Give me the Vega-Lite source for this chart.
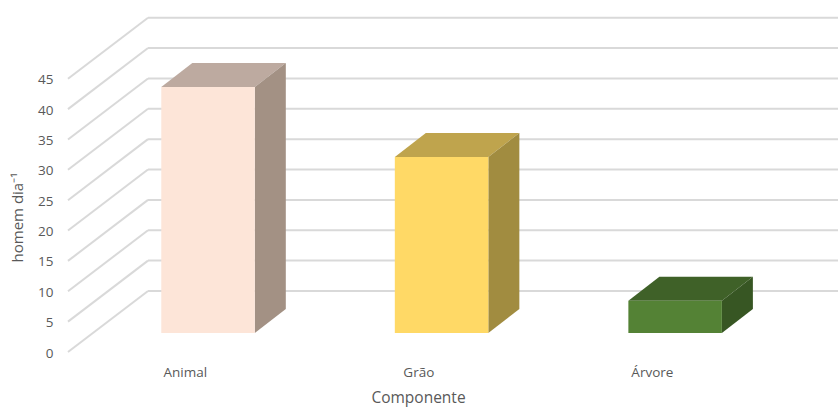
{
  "$schema": "https://vega.github.io/schema/vega-lite/v6.json",
  "width": 770,
  "height": 334,
  "autosize": "none",
  "padding": {"left": 68, "top": 18, "right": 0, "bottom": 55},
  "background": "white",
  "config": {"view": {"stroke": null}, "font": "Open Sans"},
  "datasets": {
    "barras": [
      {"Componente": "Animal", "ordem": 0, "valor": 40.5},
      {"Componente": "Grão", "ordem": 1, "valor": 29},
      {"Componente": "Árvore", "ordem": 2, "valor": 5.3}
    ],
    "grade": [
      {"v": 0}, {"v": 5}, {"v": 10}, {"v": 15}, {"v": 20},
      {"v": 25}, {"v": 30}, {"v": 35}, {"v": 40}, {"v": 45}
    ]
  },
  "encoding": {
    "x": {
      "field": "xa",
      "type": "quantitative",
      "scale": {"domain": [-0.5, 2.797], "nice": false, "zero": false},
      "axis": {
        "values": [0, 1, 2],
        "labelExpr": "['Animal','Grão','Árvore'][datum.value]",
        "title": "Componente",
        "titleFontSize": 15.5,
        "titleFontWeight": "normal",
        "titleColor": "#595959",
        "titleX": 350,
        "titleY": 50,
        "titleBaseline": "alphabetic",
        "labelFontSize": 13.5,
        "labelColor": "#595959",
        "labelPadding": 13,
        "grid": false,
        "ticks": false,
        "domain": false
      }
    },
    "y": {
      "field": "ya",
      "type": "quantitative",
      "stack": null,
      "scale": {"domain": [0, 55], "nice": false},
      "axis": {
        "values": [0, 5, 10, 15, 20, 25, 30, 35, 40, 45],
        "title": "homem dia⁻¹",
        "titleFontSize": 15,
        "titleFontWeight": "normal",
        "titleColor": "#595959",
        "titleX": -43,
        "titleY": 199,
        "labelFontSize": 13.5,
        "labelColor": "#595959",
        "labelPadding": 15,
        "labelOffset": 1,
        "grid": false,
        "ticks": false,
        "domain": false
      }
    }
  },
  "resolve": {"scale": {"color": "independent"}},
  "layer": [
    {
      "data": {"name": "grade"},
      "transform": [
        {"calculate": "-0.5", "as": "xa"},
        {"calculate": "-0.1574", "as": "xb"},
        {"calculate": "datum.v", "as": "ya"},
        {"calculate": "datum.v+10.05", "as": "yb"}
      ],
      "mark": {"type": "rule", "color": "#D9D9D9", "strokeWidth": 2},
      "encoding": {"x2": {"field": "xb"}, "y2": {"field": "yb"}}
    },
    {
      "data": {"name": "grade"},
      "transform": [
        {"calculate": "-0.1574", "as": "xa"},
        {"calculate": "2.797", "as": "xb"},
        {"calculate": "datum.v+10.05", "as": "ya"}
      ],
      "mark": {"type": "rule", "color": "#D9D9D9", "strokeWidth": 2},
      "encoding": {"x2": {"field": "xb"}}
    },
    {
      "data": {"name": "barras"},
      "transform": [
        {"calculate": "[0,1,2,3]", "as": "k"},
        {"flatten": ["k"]},
        {"calculate": "datum.ordem+[-0.1006,0.0322,0.2998,0.4326][datum.k]", "as": "xa"},
        {"calculate": "3.13+datum.valor+(datum.k==0?0:3.95)", "as": "ya"},
        {"calculate": "3.13+datum.valor+(datum.k==3?3.95:0)", "as": "yb"}
      ],
      "mark": {"type": "area", "opacity": 1},
      "encoding": {
        "y2": {"field": "yb"},
        "color": {
          "field": "Componente",
          "type": "nominal",
          "scale": {"domain": ["Animal", "Grão", "Árvore"], "range": ["#BDAAA0", "#BFA44D", "#3F6128"]},
          "legend": null
        }
      }
    },
    {
      "data": {"name": "barras"},
      "transform": [
        {"calculate": "[0,1]", "as": "k"},
        {"flatten": ["k"]},
        {"calculate": "datum.ordem+0.2998+datum.k*0.1328", "as": "xa"},
        {"calculate": "3.13+datum.valor+datum.k*3.95", "as": "ya"},
        {"calculate": "3.13+datum.k*3.95", "as": "yb"}
      ],
      "mark": {"type": "area", "opacity": 1},
      "encoding": {
        "y2": {"field": "yb"},
        "color": {
          "field": "Componente",
          "type": "nominal",
          "scale": {"domain": ["Animal", "Grão", "Árvore"], "range": ["#A39184", "#A18C40", "#375623"]},
          "legend": null
        }
      }
    },
    {
      "data": {"name": "barras"},
      "transform": [
        {"calculate": "datum.ordem-0.1006", "as": "xa"},
        {"calculate": "datum.ordem+0.2998", "as": "xb"},
        {"calculate": "3.13+datum.valor", "as": "ya"},
        {"calculate": "3.13", "as": "yb"}
      ],
      "mark": {"type": "rect"},
      "encoding": {
        "x2": {"field": "xb"},
        "y2": {"field": "yb"},
        "color": {
          "field": "Componente",
          "type": "nominal",
          "scale": {"domain": ["Animal", "Grão", "Árvore"], "range": ["#FDE5D8", "#FFD966", "#548235"]},
          "legend": null
        }
      }
    }
  ]
}
